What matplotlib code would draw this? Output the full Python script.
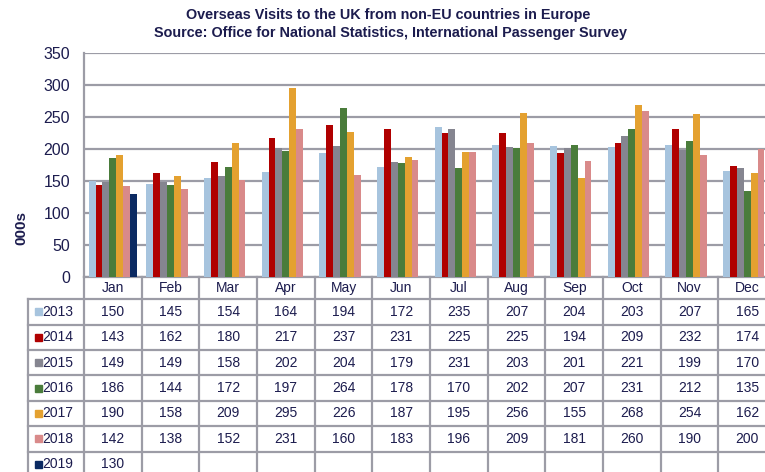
import numpy as np
import matplotlib.pyplot as plt
from matplotlib.patches import Rectangle

plt.rcParams['font.family'] = ['Liberation Sans', 'DejaVu Sans']

months = ["Jan", "Feb", "Mar", "Apr", "May", "Jun",
          "Jul", "Aug", "Sep", "Oct", "Nov", "Dec"]
years = ["2013", "2014", "2015", "2016", "2017", "2018", "2019"]

v2013 = [150, 145, 154, 164, 194, 172, 235, 207, 204, 203, 207, 165]
v2014 = [143, 162, 180, 217, 237, 231, 225, 225, 194, 209, 232, 174]
v2015 = [149, 149, 158, 202, 204, 179, 231, 203, 201, 221, 199, 170]
v2016 = [186, 144, 172, 197, 264, 178, 170, 202, 207, 231, 212, 135]
v2017 = [190, 158, 209, 295, 226, 187, 195, 256, 155, 268, 254, 162]
v2018 = [142, 138, 152, 231, 160, 183, 196, 209, 181, 260, 190, 200]
v2019 = [130]
series = [v2013, v2014, v2015, v2016, v2017, v2018, v2019]

colors = ["#a7c4de", "#b00000", "#858590", "#4a7c3b", "#e4a130", "#d98a8a", "#0b2a62"]
navy = "#1c1c4e"
grid_c = "#9c9ca6"

W, H = 765, 472
fig = plt.figure(figsize=(W / 100, H / 100), dpi=100)


def px_box(x0, y0, x1, y1):
    # pixel box (top-left origin) -> figure fraction rect
    return [x0 / W, 1 - y1 / H, (x1 - x0) / W, (y1 - y0) / H]


# ---- bars ----
ax = fig.add_axes(px_box(84, 53, 776, 277))
n = len(series)
bw = 0.12
x = np.arange(len(months))
for k, (vals, c) in enumerate(zip(series, colors)):
    off = (k - (n - 1) / 2) * bw
    ax.bar(x[:len(vals)] + off, vals, width=bw, color=c, edgecolor='none', zorder=3)

ax.set_xlim(-0.5, 11.5)
ax.set_ylim(0, 350)
ax.set_yticks(range(0, 351, 50))
ax.set_xticks([])
ax.grid(axis='y', color=grid_c, lw=1.6, zorder=0)
for s in ['top', 'right']:
    ax.spines[s].set_visible(False)
for s in ['left', 'bottom']:
    ax.spines[s].set_color(grid_c)
    ax.spines[s].set_linewidth(1.6)
ax.tick_params(axis='y', length=0, pad=10, labelsize=11.5, labelcolor=navy)

fig.text(21 / W, 1 - 228 / H, "000s", rotation=90, ha='center', va='center',
         fontsize=11, fontweight='bold', color=navy)
fig.text(388 / W, 1 - 15 / H, "Overseas Visits to the UK from non-EU countries in Europe",
         ha='center', va='center', fontsize=10.4, fontweight='bold', color=navy)
fig.text(391 / W, 1 - 33 / H, "Source: Office for National Statistics, International Passenger Survey",
         ha='center', va='center', fontsize=10.4, fontweight='bold', color=navy)

# ---- data table ----
col_w = 57.5
lab_w = 56 / col_w
hh = 22 / 25.3
tax = fig.add_axes(px_box(28, 277, 776, 477))
left = -0.5 - lab_w
nrows = len(years)
tax.set_xlim(left, 11.5)
tax.set_ylim(hh + nrows, 0)
tax.axis('off')

lw = 1.6
tax.plot([left, 11.5], [hh, hh], color=grid_c, lw=lw, clip_on=False)
for i in range(1, nrows + 1):
    tax.plot([left, 11.5], [hh + i, hh + i], color=grid_c, lw=lw, clip_on=False)
tax.plot([left, left], [hh, hh + nrows], color=grid_c, lw=lw, clip_on=False)
for j in range(len(months) + 1):
    tax.plot([j - 0.5, j - 0.5], [0, hh + nrows], color=grid_c, lw=lw, clip_on=False)

for j, m in enumerate(months):
    tax.text(j, hh / 2, m, ha='center', va='center', fontsize=10, color=navy)

sq_w = 7 / col_w
sq_h = 7 / 25.3
for i, (yr, vals, c) in enumerate(zip(years, series, colors)):
    yc = hh + i + 0.5
    tax.add_patch(Rectangle((left + 6.5 / col_w, yc - sq_h / 2), sq_w, sq_h,
                            color=c, clip_on=False))
    tax.text(left + 14 / col_w, yc, yr, ha='left', va='center', fontsize=10, color=navy)
    for j, v in enumerate(vals):
        tax.text(j, yc, str(v), ha='center', va='center', fontsize=10, color=navy)

fig.savefig("out.png", dpi=100)
